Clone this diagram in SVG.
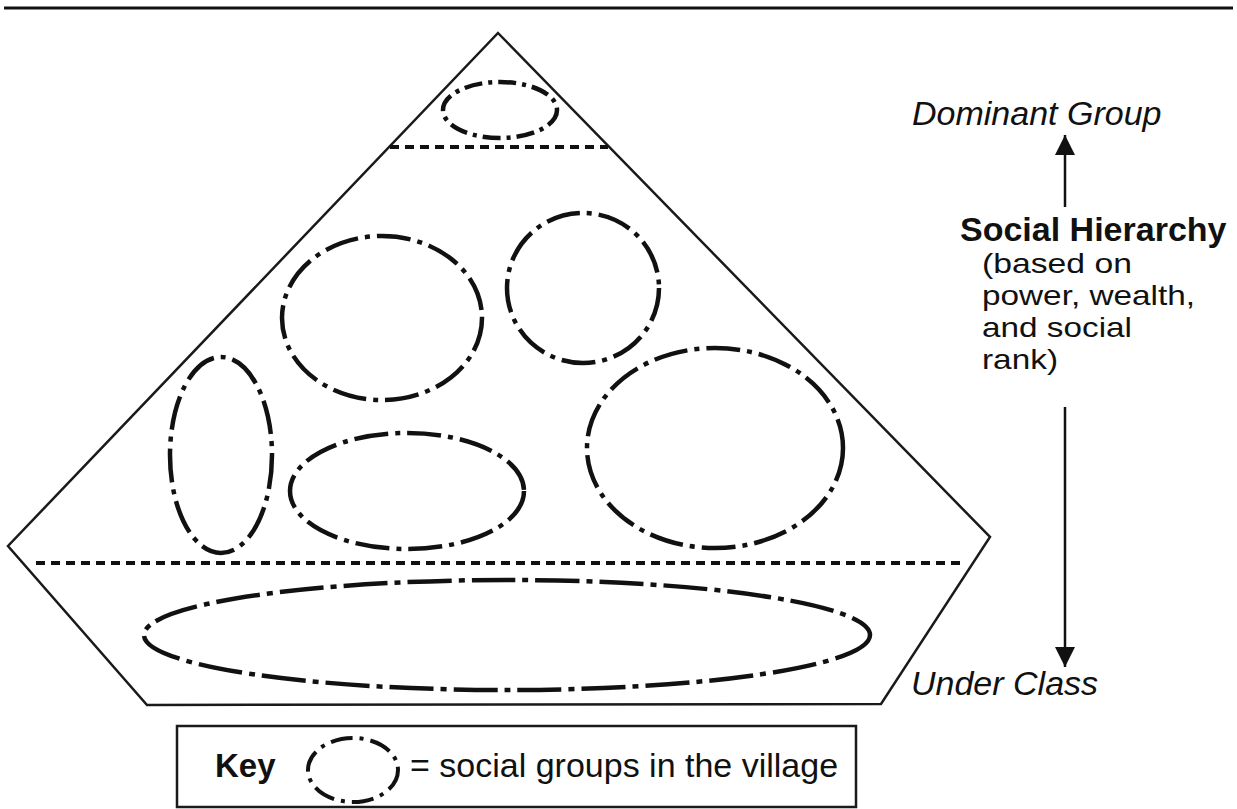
<svg xmlns="http://www.w3.org/2000/svg" width="1237" height="809" viewBox="0 0 1237 809">
  <defs>
    <style>
      .rule { stroke: #111; stroke-width: 3; fill: none; }
      .outline { stroke: #1a1a1a; stroke-width: 2.5; fill: none; stroke-linejoin: miter; }
      .divider { stroke: #111; stroke-width: 4; fill: none; stroke-dasharray: 9 6; }
      .group { stroke: #111; stroke-width: 4.5; fill: none; stroke-linecap: butt; }
      .g-sm { stroke-dasharray: 18 6 4 6; }
      .g-md { stroke-dasharray: 34 7 5 7; }
      .g-lg { stroke-dasharray: 44 7 6 7; }
      .axis { stroke: #111; stroke-width: 2.5; fill: none; }
      .lbl { font-family: "Liberation Sans", Arial, sans-serif; font-size: 33px; fill: #111; }
      .it { font-style: italic; font-size: 34px; }
      .bd { font-weight: bold; }
      .sub { font-size: 28px; }
      .box { stroke: #1a1a1a; stroke-width: 2.5; fill: none; }
    </style>
    <marker id="head" viewBox="0 0 20 20" refX="20" refY="10" markerWidth="20" markerHeight="20" markerUnits="userSpaceOnUse" orient="auto">
      <path d="M0,0 L20,10 L0,20 Z" fill="#111"/>
    </marker>
  </defs>

  <rect width="1237" height="809" fill="#fff"/>

  <!-- heading rule -->
  <line class="rule" x1="4" y1="8" x2="1233" y2="8"/>

  <!-- village hierarchy shape -->
  <g id="hierarchy">
    <polygon class="outline" points="498,33 990,537 881,704 147,705 8,546"/>
    <line class="divider" x1="390" y1="147" x2="608" y2="147"/>
    <line class="divider" x1="36" y1="563" x2="963" y2="563"/>
  </g>

  <!-- social groups -->
  <g id="groups">
    <ellipse id="group-top" class="group g-sm" cx="500" cy="110" rx="57" ry="28"/>
    <ellipse id="group-a" class="group g-md" cx="382" cy="318" rx="100" ry="82"/>
    <ellipse id="group-b" class="group g-md" cx="583" cy="288" rx="76" ry="75"/>
    <ellipse id="group-c" class="group g-md" cx="221" cy="455" rx="51" ry="98"/>
    <ellipse id="group-d" class="group g-md" cx="407" cy="491" rx="117" ry="58"/>
    <ellipse id="group-e" class="group g-md" cx="715" cy="448" rx="128" ry="100"/>
    <ellipse id="group-under" class="group g-lg" cx="507" cy="635" rx="363" ry="55"/>
  </g>

  <!-- hierarchy axis -->
  <g id="connectors">
    <line class="axis" x1="1065" y1="207" x2="1065" y2="135" marker-end="url(#head)"/>
    <line class="axis" x1="1065" y1="407" x2="1065" y2="667" marker-end="url(#head)"/>
  </g>

  <g id="label-dominant">
    <text class="lbl it" x="912" y="125">Dominant Group</text>
  </g>
  <g id="label-hierarchy">
    <text class="lbl bd" x="960" y="241" style="font-size:34px">Social Hierarchy</text>
    <text class="lbl sub" x="982" y="273" textLength="150" lengthAdjust="spacingAndGlyphs">(based on</text>
    <text class="lbl sub" x="982" y="305" textLength="213" lengthAdjust="spacingAndGlyphs">power, wealth,</text>
    <text class="lbl sub" x="982" y="337" textLength="150" lengthAdjust="spacingAndGlyphs">and social</text>
    <text class="lbl sub" x="982" y="369" textLength="76" lengthAdjust="spacingAndGlyphs">rank)</text>
  </g>
  <g id="label-under">
    <text class="lbl it" x="911" y="695">Under Class</text>
  </g>

  <!-- key -->
  <g id="key">
    <rect class="box" x="177" y="726" width="679" height="81"/>
    <text class="lbl bd" x="215" y="777">Key</text>
    <ellipse class="group" cx="353" cy="770" rx="45" ry="32" style="stroke-width:4;stroke-dasharray:22 7 4 7"/>
    <text class="lbl" x="410" y="777" style="font-size:34px">= social groups in the village</text>
  </g>
</svg>
